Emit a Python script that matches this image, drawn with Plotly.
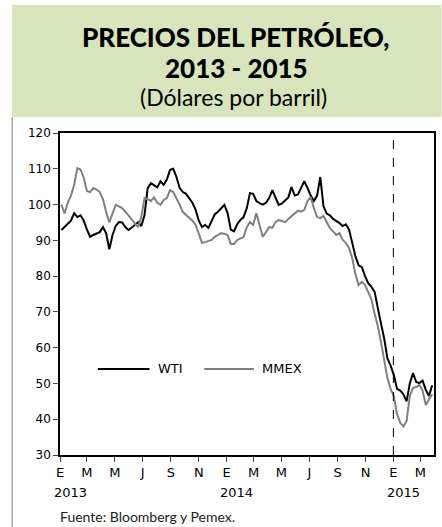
import pandas as pd
import plotly.graph_objects as go

# semanas (viernes) desde 2013-01-04 hasta 2015-03-27
fechas = pd.date_range("2013-01-04", periods=117, freq="W-FRI")

wti = [
    92.9, 93.7, 94.5, 95.5, 97.6, 96.5, 97.0, 95.5, 93.0, 91.0,
    91.5, 92.0, 92.3, 93.7, 92.0, 87.5, 91.5, 94.0, 95.1, 95.0,
    93.7, 92.9, 93.5, 94.3, 95.1, 94.0, 97.0, 104.6, 106.0, 105.5,
    104.8, 106.5, 105.5, 107.0, 109.7, 110.0, 107.7, 104.6, 103.5, 103.0,
    101.8, 100.5, 98.5, 95.5, 93.7, 94.3, 93.5, 95.5, 97.3, 98.0,
    99.0, 99.9, 97.6, 93.0, 92.5, 94.5, 95.7, 96.5, 99.0, 103.2,
    103.0, 101.0, 100.4, 100.0, 100.5, 101.8, 104.0, 102.1, 99.9, 100.3,
    101.2, 102.0, 104.9, 102.5, 102.8, 104.5, 106.5, 104.6, 102.5, 101.0,
    102.5, 107.7, 99.5, 97.5, 97.0, 96.0, 95.5, 94.8, 94.0, 94.5,
    93.0, 89.0, 85.5, 83.0, 82.5, 80.0, 78.0, 77.0, 75.6, 71.0,
    67.0, 62.5, 57.0, 55.0, 52.4, 48.5, 48.0, 47.0, 45.0, 50.0,
    52.9, 50.4, 50.1, 50.8, 48.2, 46.5, 49.5,
]

mmex = [
    100.0, 97.5, 100.5, 102.5, 105.5, 110.2, 109.8, 107.5, 103.8, 103.5,
    104.6, 104.2, 103.5, 101.5, 98.0, 95.0, 97.5, 99.9, 99.5, 99.0,
    98.0, 97.0, 96.0, 95.0, 93.7, 96.5, 101.8, 101.5, 101.0, 102.0,
    100.5, 99.9, 101.3, 101.8, 104.0, 103.5, 101.8, 100.0, 97.9, 97.0,
    96.2, 95.5, 94.3, 91.5, 89.3, 89.5, 89.8, 90.1, 91.0, 91.5,
    92.0, 91.8, 91.5, 89.0, 89.0, 90.1, 90.5, 90.9, 93.7, 95.1,
    94.3, 97.6, 94.3, 91.0, 92.3, 93.7, 93.5, 95.1, 95.7, 95.3,
    95.1, 96.0, 96.8, 97.6, 98.3, 98.0, 98.5, 101.0, 102.1, 99.0,
    96.5, 96.2, 96.8, 95.1, 93.4, 92.5, 91.5, 92.0, 90.1, 89.3,
    87.9, 85.0, 80.5, 77.5, 78.4, 77.5, 75.6, 73.5, 69.5, 66.0,
    61.5, 56.5, 51.5, 48.5, 46.5, 41.5, 39.0, 38.0, 39.5, 46.5,
    48.7, 49.0, 49.6, 48.0, 44.0, 45.5, 47.0,
]

tick_fechas = pd.date_range("2013-01-01", "2015-03-01", freq="2MS")
tick_meses = ["E", "M", "M", "J", "S", "N"] * 2 + ["E", "M"]
anios = ["2013", "2014", "2015"]

NEGRO = "#000000"
GRIS = "#808080"

fig = go.Figure()
fig.add_trace(go.Scatter(x=fechas, y=wti, mode="lines", name="WTI",
                         line=dict(color=NEGRO, width=2)))
fig.add_trace(go.Scatter(x=fechas, y=mmex, mode="lines", name="MMEX",
                         line=dict(color=GRIS, width=2)))

# franja verde del titulo y borde izquierdo
fig.add_shape(type="rect", xref="paper", yref="paper",
              x0=-0.1277, x1=1.02, y0=1.0497, y1=1.3975,
              fillcolor="#d8e4bc", line_width=0, layer="below")
fig.add_shape(type="line", xref="paper", yref="paper",
              x0=-0.1277, x1=-0.1277, y0=-0.23, y1=1.0497,
              line=dict(color="#a6a6a6", width=1.5))
# linea punteada en enero 2015
fig.add_shape(type="line", xref="x", yref="paper",
              x0="2015-01-01", x1="2015-01-01", y0=0, y1=1,
              line=dict(color=NEGRO, width=1, dash="dash"))

# titulos
fig.add_annotation(text="PRECIOS DEL PETRÓLEO,", xref="paper", yref="paper",
                   x=0.468, y=1.298, yanchor="middle", showarrow=False,
                   font=dict(family="Lato", size=26, color=NEGRO, weight=900))
fig.add_annotation(text="2013 - 2015", xref="paper", yref="paper",
                   x=0.473, y=1.202, yanchor="middle", showarrow=False,
                   font=dict(family="Lato", size=26, color=NEGRO, weight=900))
fig.add_annotation(text="(Dólares por barril)", xref="paper", yref="paper",
                   x=0.463, y=1.112, yanchor="middle", showarrow=False,
                   font=dict(family="Lato", size=23, color=NEGRO))
fig.add_annotation(text="Fuente: Bloomberg y Pemex.", xref="paper", yref="paper",
                   x=-0.005, y=-0.1925, xanchor="left", yanchor="middle",
                   showarrow=False,
                   font=dict(family="Lato", size=14, color="#222222"))

# etiquetas de anio bajo los meses de enero
for a in anios:
    fig.add_annotation(text=a, xref="x", yref="paper", x=a + "-01-01", xshift=10,
                       y=-0.115, yanchor="middle", showarrow=False,
                       font=dict(family="DejaVu Sans", size=13, color=NEGRO))

# leyenda dibujada dentro del area
leyenda = [("WTI", NEGRO, 0.1011, 0.2394), ("MMEX", GRIS, 0.3856, 0.5186)]
for nombre, color, x0, x1 in leyenda:
    fig.add_shape(type="line", xref="paper", yref="paper",
                  x0=x0, x1=x1, y0=0.2671, y1=0.2671,
                  line=dict(color=color, width=2))
    fig.add_annotation(text=nombre, xref="paper", yref="paper",
                       x=x1 + 0.016, y=0.2671, xanchor="left", yanchor="middle",
                       showarrow=False,
                       font=dict(family="DejaVu Sans", size=13, color=NEGRO))

fig.update_layout(
    width=442, height=527,
    margin=dict(l=60, r=6, t=133, b=72),
    paper_bgcolor="white", plot_bgcolor="white",
    font=dict(family="DejaVu Sans", size=12, color=NEGRO),
    showlegend=False,
)
fig.update_xaxes(range=["2013-01-01", "2015-03-31"], tickvals=tick_fechas,
                 ticktext=tick_meses, ticks="outside", ticklen=5,
                 tickfont=dict(size=13),
                 showgrid=False, showline=True, linecolor=NEGRO,
                 linewidth=1.5, mirror=True, zeroline=False)
fig.update_yaxes(range=[30, 120], dtick=10, ticks="outside", ticklen=5,
                 showgrid=False, showline=True, linecolor=NEGRO,
                 linewidth=1.5, mirror=True, zeroline=False)

fig.write_html("out.html", config={"displayModeBar": False},
               post_script="document.body.style.margin='0px';")
